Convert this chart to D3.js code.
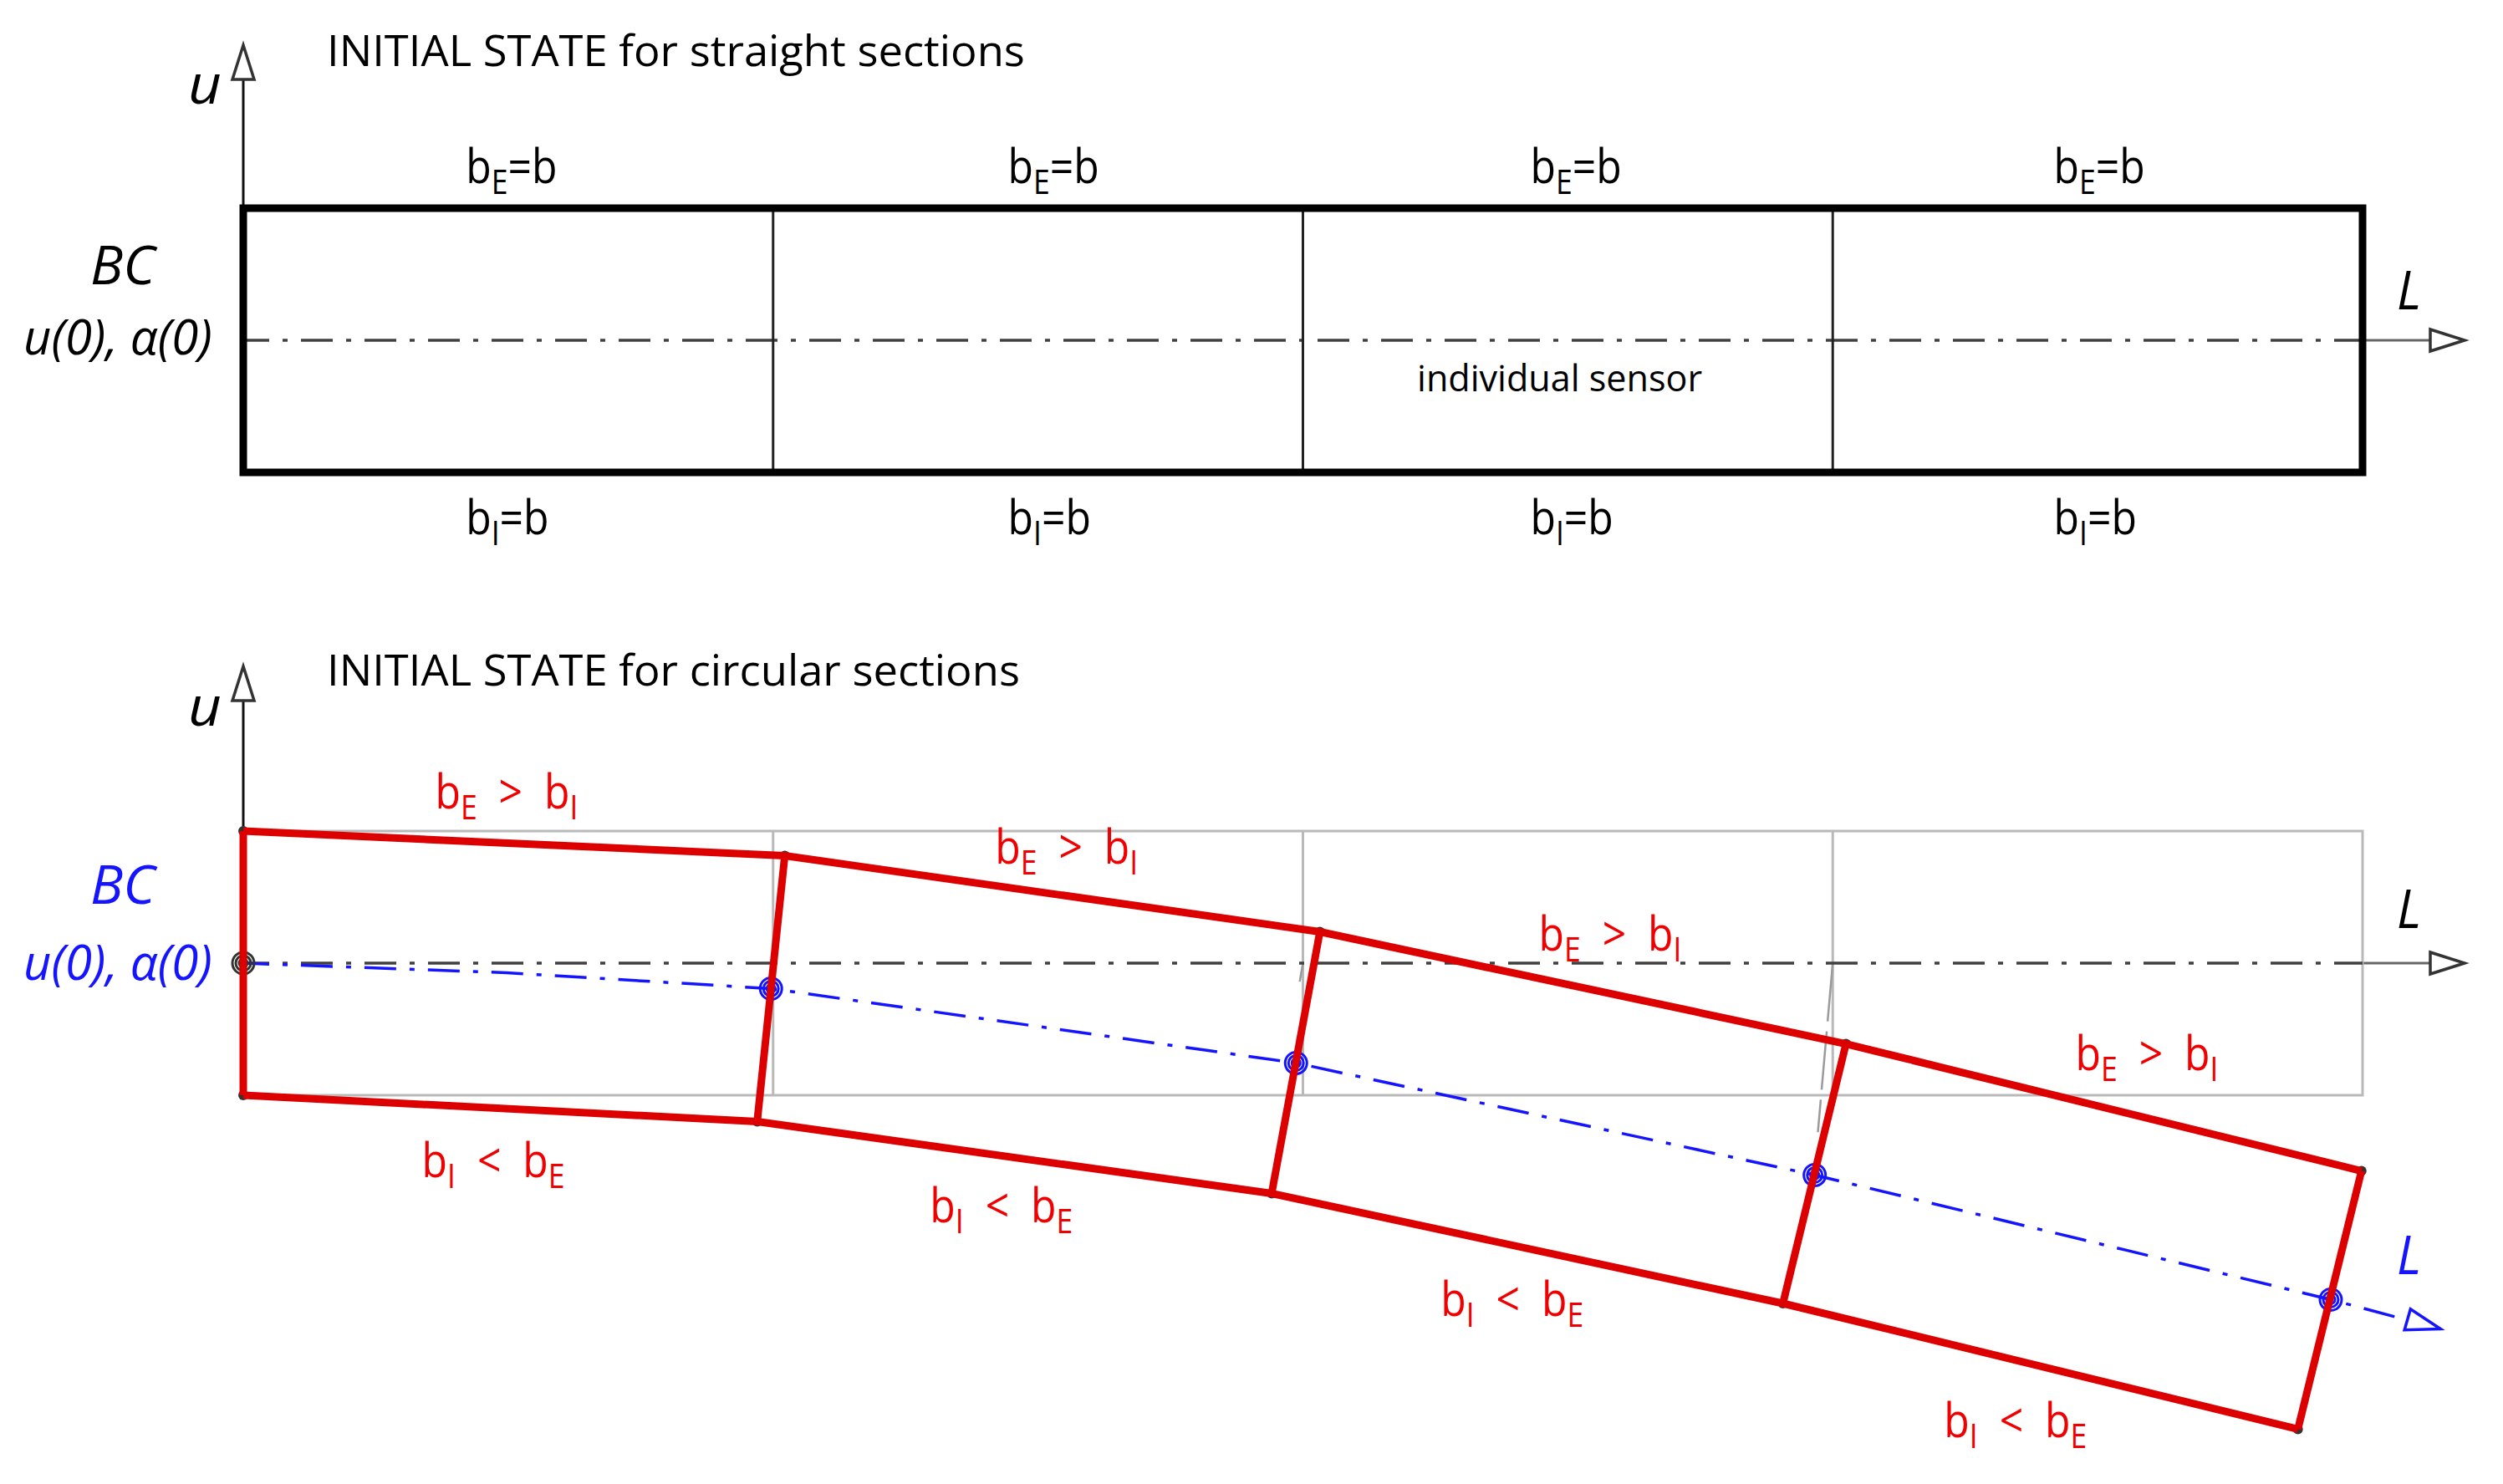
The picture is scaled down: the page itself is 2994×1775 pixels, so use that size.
<!DOCTYPE html>
<html>
<head>
<meta charset="utf-8">
<script src="https://cdn.jsdelivr.net/npm/d3@7"></script>
<style>
html, body { margin: 0; padding: 0; background: #fff; }
svg { display: block; }
text { font-family: "Open Sans", sans-serif; white-space: pre; }
</style>
</head>
<body>
<div id="chart"></div>
<script>
// section boundaries along L, half height of a section is u = 1
var sections = [0, 1, 2, 3, 4];
var straightU = [1, -1];

// deformed shape of the circular sections
var externalL = [0, 1.022, 2.032, 3.025, 3.998];
var externalU = [1, 0.813, 0.237, -0.611, -1.573];
var internalL = [0, 0.970, 1.941, 2.906, 3.878];
var internalU = [-1, -1.199, -1.744, -2.576, -3.528];
var centerL = [0, 0.497, 0.996, 1.987, 2.966, 3.940, 4.147];
var centerU = [0, -0.073, -0.193, -0.756, -1.604, -2.547, -2.769];
var sensorIdx = [0, 2, 3, 4, 5];
var ghostL = [3, 2.972];
var ghostU = [0, -1.28];
var ghostL2 = [2, 1.994];
var ghostU2 = [0, -0.14];

// label anchors, same units as the data
var straightTopL = [0.420, 1.443, 2.429, 3.417];
var straightBottomL = [0.420, 1.443, 2.429, 3.417];
var circTopL = [0.362, 1.419, 2.445, 3.458];
var circTopU = [1.174, 0.753, 0.095, -0.810];
var circBottomL = [0.337, 1.296, 2.260, 3.210];
var circBottomU = [-1.623, -1.965, -2.671, -3.589];

var titles = ["INITIAL STATE for straight sections", "INITIAL STATE for circular sections"];

var w = 2994, h = 1775;
var red = "#dc0000", redText = "#f00000", blue = "#1414ff", dark = "#404040", grey = "#b9b9b9";

var x = d3.scaleLinear().domain([0, 4]).range([291, 2826]);
var y1 = d3.scaleLinear().domain([-1, 1]).range([565, 249]);
var y2 = d3.scaleLinear().domain([-1, 1]).range([1310, 994]);

var svg = d3.select("#chart").append("svg")
  .attr("width", w)
  .attr("height", h)
  .attr("viewBox", "0 0 " + w + " " + h);

function zip(ls, us) {
  return ls.map(function(l, i) { return [l, us[i]]; });
}

function path(g, pts, yScale, color, width, dash) {
  var line = d3.line()
    .x(function(d) { return x(d[0]); })
    .y(function(d) { return yScale(d[1]); });
  return g.append("path")
    .attr("d", line(pts))
    .attr("fill", "none")
    .attr("stroke", color)
    .attr("stroke-width", width)
    .attr("stroke-dasharray", dash || null);
}

// hollow arrow head, tip given in pixels, dir is the unit vector it points to
function arrow(g, tipX, tipY, dx, dy, color) {
  var len = 41, half = 13;
  var bx = tipX - dx * len, by = tipY - dy * len;
  var pts = [[tipX, tipY], [bx - dy * half, by + dx * half], [bx + dy * half, by - dx * half]];
  g.append("path")
    .attr("d", d3.line().curve(d3.curveLinearClosed)(pts))
    .attr("fill", "#fff")
    .attr("stroke", color)
    .attr("stroke-width", 3.5);
}

// text squeezed horizontally, parts are [string, isSubscript]
function label(g, parts, px, py, opts) {
  var size = opts.size || 56;
  var t = g.append("text")
    .attr("transform", "translate(" + px + "," + py + ") scale(" + (opts.sx || 0.89) + ",1)")
    .attr("font-size", size)
    .attr("font-style", opts.italic ? "italic" : null)
    .attr("fill", opts.color || "#000");
  var prevSub = false;
  parts.forEach(function(p) {
    var isSub = p[1];
    var shift = isSub && !prevSub ? 13 : (!isSub && prevSub ? -13 : 0);
    t.append("tspan")
      .attr("dy", shift)
      .attr("font-size", isSub ? 40 : size)
      .text(p[0]);
    prevSub = isSub;
  });
  return t;
}

function dashDot(g, yScale) {
  return path(g, [[0, 0], [4, 0]], yScale, dark, 3.5, "38 16 6 16")
    .attr("stroke-dashoffset", 7);
}

function axes(g, yScale, topPx) {
  g.append("line")
    .attr("x1", x(0)).attr("x2", x(0))
    .attr("y1", topPx).attr("y2", yScale(1))
    .attr("stroke", "#111").attr("stroke-width", 3);
  arrow(g, x(0), topPx - 41, 0, -1, "#333");
  g.append("line")
    .attr("x1", x(4)).attr("x2", 2910)
    .attr("y1", yScale(0)).attr("y2", yScale(0))
    .attr("stroke", "#666").attr("stroke-width", 3);
  arrow(g, 2948, yScale(0), 1, 0, "#333");
}

// upper panel
var upper = svg.append("g");
axes(upper, y1, 95);
dashDot(upper, y1);
sections.slice(1, 4).forEach(function(l) {
  path(upper, zip([l, l], straightU), y1, "#222", 3);
});
upper.append("rect")
  .attr("x", x(0))
  .attr("y", y1(1))
  .attr("width", x(4) - x(0))
  .attr("height", y1(-1) - y1(1))
  .attr("fill", "none")
  .attr("stroke", "#000")
  .attr("stroke-width", 9);

label(upper, [[titles[0], false]], 391, 79, { size: 52, sx: 1.01 });
label(upper, [["u", false]], 225, 124, { size: 66, italic: true, sx: 1.05 });
label(upper, [["BC", false]], 108, 340, { size: 64, italic: true, sx: 1.02 });
label(upper, [["u(0), α(0)", false]], 28, 424, { size: 58, italic: true, sx: 1 });
label(upper, [["L", false]], 2867, 370, { size: 64, italic: true, sx: 0.95 });
label(upper, [["individual sensor", false]], 1695, 468, { size: 44, sx: 0.98 });

straightTopL.forEach(function(l) {
  label(upper, [["b", false], ["E", true], ["=b", false]], x(l), y1(1.19), {});
});
straightBottomL.forEach(function(l) {
  label(upper, [["b", false], ["I", true], ["=b", false]], x(l), y1(-1.468), {});
});

// lower panel
var lower = svg.append("g");
axes(lower, y2, 838);

// undeformed sections in grey
lower.append("rect")
  .attr("x", x(0))
  .attr("y", y2(1))
  .attr("width", x(4) - x(0))
  .attr("height", y2(-1) - y2(1))
  .attr("fill", "none")
  .attr("stroke", grey)
  .attr("stroke-width", 3);
sections.slice(1, 4).forEach(function(l) {
  path(lower, zip([l, l], straightU), y2, grey, 3);
});
path(lower, zip(ghostL, ghostU), y2, "#9a9a9a", 2.5, "70 12");
path(lower, zip(ghostL2, ghostU2), y2, "#9a9a9a", 2.5);

dashDot(lower, y2);
path(lower, zip(centerL, centerU), y2, blue, 3.5, "38 16 6 16").attr("stroke-dashoffset", 7);
var arrowDx = Math.cos(Math.PI / 180 * 16), arrowDy = Math.sin(Math.PI / 180 * 16);
arrow(lower, x(centerL[6]), y2(centerU[6]), arrowDx, arrowDy, blue);

// sensor nodes on the centre line
lower.selectAll("g.node")
  .data(sensorIdx)
  .enter().append("g")
  .attr("class", "node")
  .attr("transform", function(d) { return "translate(" + x(centerL[d]) + "," + y2(centerU[d]) + ")"; })
  .each(function(d) {
    var n = d3.select(this), c = d === 0 ? "#333" : blue;
    [13, 9, 5].forEach(function(r) {
      n.append("circle").attr("r", r).attr("fill", "none").attr("stroke", c).attr("stroke-width", 3);
    });
  });

// small dots under the corners of the red frame
zip(externalL, externalU).concat(zip(internalL, internalU)).forEach(function(p) {
  lower.append("circle")
    .attr("cx", x(p[0])).attr("cy", y2(p[1]))
    .attr("r", 6)
    .attr("fill", "#333");
});

path(lower, zip(externalL, externalU), y2, red, 9);
path(lower, zip(internalL, internalU), y2, red, 9);
externalL.forEach(function(l, i) {
  var pts = [[l, externalU[i]], [internalL[i], internalU[i]]];
  path(lower, pts, y2, red, 9);
});

label(lower, [[titles[1], false]], 391, 820, { size: 52, sx: 1.01 });
label(lower, [["u", false]], 225, 868, { size: 66, italic: true, sx: 1.05 });
label(lower, [["BC", false]], 108, 1081, { size: 64, italic: true, sx: 1.02, color: blue });
label(lower, [["u(0), α(0)", false]], 28, 1172, { size: 58, italic: true, sx: 1, color: blue });
label(lower, [["L", false]], 2867, 1110, { size: 64, italic: true, sx: 0.95 });
label(lower, [["L", false]], 2867, 1524, { size: 64, italic: true, sx: 0.95, color: blue });

circTopL.forEach(function(l, i) {
  label(lower, [["b", false], ["E", true], ["  >  ", false], ["b", false], ["I", true]], x(l), y2(circTopU[i]), { color: redText });
});
circBottomL.forEach(function(l, i) {
  label(lower, [["b", false], ["I", true], ["  <  ", false], ["b", false], ["E", true]], x(l), y2(circBottomU[i]), { color: redText });
});
</script>
</body>
</html>
